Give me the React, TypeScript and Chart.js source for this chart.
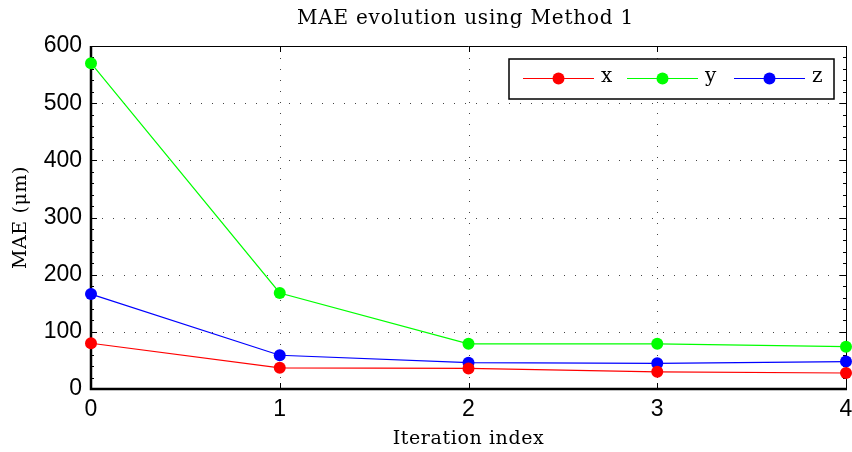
import React, { useEffect, useRef } from "react";
import { Chart, registerables } from "chart.js";

Chart.register(...registerables);

const iterations = [0, 1, 2, 3, 4];
const seriesX = [80, 37, 36, 30, 28];
const seriesY = [570, 168, 79, 79, 74];
const seriesZ = [166, 59, 46, 45, 48];
const seriesNames = ["x", "y", "z"];
const seriesColors = ["#ff0000", "#00ff00", "#0000ff"];
const xTicks = [0, 1, 2, 3, 4];
const yTicks = [0, 100, 200, 300, 400, 500, 600];
const chartTitle = "MAE evolution using Method 1";
const xTitle = "Iteration index";
const yTitle = "MAE (μm)";

const SERIF = "'DejaVu Serif', serif";
const SANS = "'Liberation Sans', Arial, sans-serif";

const framePlugin = {
  id: "frame",
  beforeDatasetsDraw(chart: any) {
    const { ctx, chartArea } = chart;
    const { left, right, top, bottom } = chartArea;
    const xs = chart.scales.x;
    const ys = chart.scales.y;
    ctx.save();
    ctx.strokeStyle = "#444";
    ctx.lineWidth = 1;
    ctx.setLineDash([1, 10]);
    for (const v of xTicks) {
      if (v === xTicks[0] || v === xTicks[xTicks.length - 1]) continue;
      const px = Math.round(xs.getPixelForValue(v)) + 0.5;
      ctx.beginPath();
      ctx.moveTo(px, bottom);
      ctx.lineTo(px, top);
      ctx.stroke();
    }
    for (const v of yTicks) {
      if (v === yTicks[0] || v === yTicks[yTicks.length - 1]) continue;
      const py = Math.round(ys.getPixelForValue(v)) + 0.5;
      ctx.beginPath();
      ctx.moveTo(left, py);
      ctx.lineTo(right, py);
      ctx.stroke();
    }
    ctx.setLineDash([]);
    ctx.strokeStyle = "#000";
    ctx.lineWidth = 1;
    const major = 6;
    const minor = 3;
    for (let i = 0; i < yTicks.length; i++) {
      const v = yTicks[i];
      const py = Math.round(ys.getPixelForValue(v)) + 0.5;
      ctx.beginPath();
      ctx.moveTo(left, py);
      ctx.lineTo(left + major, py);
      ctx.moveTo(right, py);
      ctx.lineTo(right - major, py);
      ctx.stroke();
      if (i < yTicks.length - 1) {
        const step = (yTicks[i + 1] - v) / 5;
        for (let k = 1; k < 5; k++) {
          const pm = Math.round(ys.getPixelForValue(v + step * k)) + 0.5;
          ctx.beginPath();
          ctx.moveTo(left, pm);
          ctx.lineTo(left + minor, pm);
          ctx.moveTo(right, pm);
          ctx.lineTo(right - minor, pm);
          ctx.stroke();
        }
      }
    }
    for (const v of xTicks) {
      const px = Math.round(xs.getPixelForValue(v)) + 0.5;
      ctx.beginPath();
      ctx.moveTo(px, bottom);
      ctx.lineTo(px, bottom - major);
      ctx.moveTo(px, top);
      ctx.lineTo(px, top + major);
      ctx.stroke();
    }
    ctx.lineWidth = 1;
    ctx.beginPath();
    ctx.moveTo(left, top + 0.5);
    ctx.lineTo(right + 0.5, top + 0.5);
    ctx.lineTo(right + 0.5, bottom);
    ctx.stroke();
    ctx.lineWidth = 2.5;
    ctx.beginPath();
    ctx.moveTo(left, top);
    ctx.lineTo(left, bottom);
    ctx.lineTo(right + 1, bottom);
    ctx.stroke();
    ctx.restore();
  },
  afterDatasetsDraw(chart: any) {
    const { ctx, chartArea } = chart;
    ctx.save();
    const bx = 509, by = 59, bw = 325, bh = 40;
    ctx.fillStyle = "#fff";
    ctx.fillRect(bx, by, bw, bh);
    ctx.strokeStyle = "#000";
    ctx.lineWidth = 1.5;
    ctx.strokeRect(bx, by, bw, bh);
    const starts = [523, 627, 734];
    const cy = by + bh / 2 - 0.5;
    ctx.font = `20px ${SERIF}`;
    ctx.textBaseline = "middle";
    ctx.textAlign = "left";
    seriesNames.forEach((name, i) => {
      const sx = starts[i];
      ctx.strokeStyle = seriesColors[i];
      ctx.lineWidth = 1;
      ctx.beginPath();
      ctx.moveTo(sx, cy);
      ctx.lineTo(sx + 71, cy);
      ctx.stroke();
      ctx.fillStyle = seriesColors[i];
      ctx.beginPath();
      ctx.arc(sx + 35.5, cy, 6, 0, Math.PI * 2);
      ctx.fill();
      ctx.fillStyle = "#000";
      ctx.fillText(name, sx + 78, cy - 2);
    });
    // titles
    ctx.fillStyle = "#000";
    ctx.textAlign = "center";
    ctx.textBaseline = "alphabetic";
    (ctx as any).letterSpacing = "0.8px";
    ctx.font = `20px ${SERIF}`;
    const cx = (chartArea.left + chartArea.right) / 2;
    ctx.fillText(chartTitle, cx - 3, 24);
    ctx.font = `19px ${SERIF}`;
    (ctx as any).letterSpacing = "0.6px";
    ctx.fillText(xTitle, cx, 444);
    ctx.translate(26, (chartArea.top + chartArea.bottom) / 2);
    ctx.rotate(-Math.PI / 2);
    ctx.fillText(yTitle, 0, 0);
    ctx.restore();
  },
};

export default function App() {
  const ref = useRef<HTMLCanvasElement>(null);
  useEffect(() => {
    if (!ref.current) return;
    const mk = (data: number[], i: number) => ({
      label: seriesNames[i],
      data: iterations.map((x, j) => ({ x, y: data[j] })),
      borderColor: seriesColors[i],
      backgroundColor: seriesColors[i],
      borderWidth: 1.2,
      pointRadius: 6,
      pointHoverRadius: 6,
      pointBorderWidth: 0,
      clip: false as any,
    });
    const chart = new Chart(ref.current, {
      type: "line",
      data: {
        datasets: [mk(seriesX, 0), mk(seriesY, 1), mk(seriesZ, 2)],
      },
      plugins: [framePlugin],
      options: {
        animation: false,
        responsive: false,
        devicePixelRatio: 1,
        layout: { padding: { top: 46, right: 6, left: 0, bottom: 0 } },
        plugins: {
          legend: { display: false },
          title: { display: false },
          tooltip: { enabled: false },
        },
        scales: {
          x: {
            type: "linear",
            min: 0,
            max: 4,
            afterBuildTicks: (s: any) => {
              s.ticks = xTicks.map((v) => ({ value: v }));
            },
            afterFit: (s: any) => {
              s.height = 63;
              s.paddingLeft = 0;
              s.paddingRight = 0;
            },
            grid: { display: false, drawTicks: false },
            border: { display: false },
            ticks: {
              color: "#000",
              font: { family: SANS, size: 23 },
              padding: 7,
              maxRotation: 0,
            },
          },
          y: {
            type: "linear",
            min: 0,
            max: 600,
            afterBuildTicks: (s: any) => {
              s.ticks = yTicks.map((v) => ({ value: v }));
            },
            afterFit: (s: any) => {
              s.width = 91;
              s.paddingTop = 0;
              s.paddingBottom = 0;
            },
            grid: { display: false, drawTicks: false },
            border: { display: false },
            ticks: {
              color: "#000",
              font: { family: SANS, size: 23 },
              padding: 9,
            },
          },
        },
      },
    });
    return () => chart.destroy();
  }, []);
  return (
    <div style={{ position: "absolute", left: 0, top: 0, width: 852, height: 452, background: "#fff" }}>
      <canvas ref={ref} width={852} height={452} style={{ width: 852, height: 452, display: "block" }} />
    </div>
  );
}
